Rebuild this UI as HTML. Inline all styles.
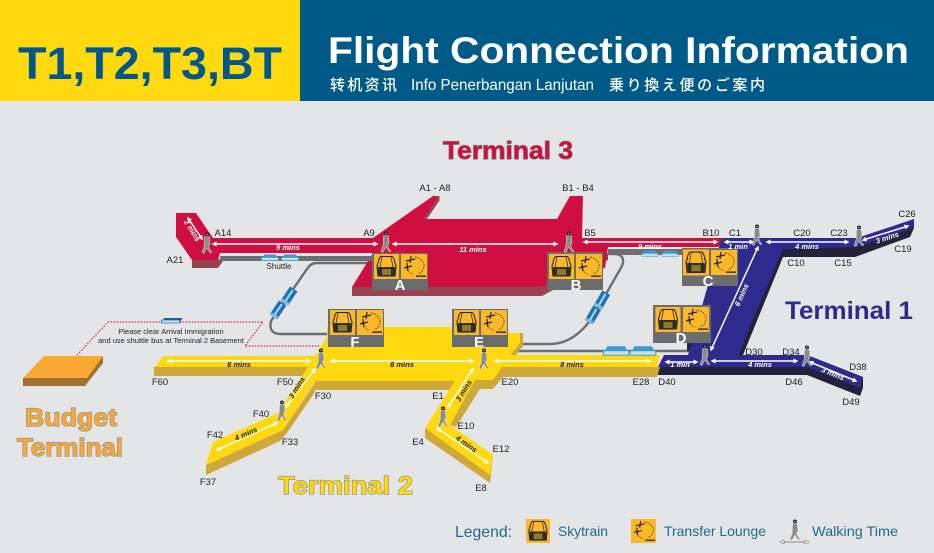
<!DOCTYPE html>
<html><head><meta charset="utf-8"><style>
html,body{margin:0;padding:0;background:#e4e5e7;width:934px;height:553px;overflow:hidden}
svg{display:block}
text{font-family:"Liberation Sans","Noto Sans CJK JP",sans-serif}
.l{font-size:9.5px;fill:#222;text-anchor:middle}
.m{font-size:7.5px;font-weight:bold;font-style:italic;fill:#fff;text-anchor:middle}
.k{fill:#222}
.a{stroke:#fff;stroke-width:1.5;fill:none;marker-start:url(#as);marker-end:url(#ae)}
.ttl{font-weight:bold;paint-order:stroke;stroke:#888;stroke-width:1.2px}
.lg{font-size:14px;fill:#1f6a8f}
.bl{font-weight:bold;font-size:15px;fill:#fff;text-anchor:middle}
</style></head><body>
<svg width="934" height="553" viewBox="0 0 934 553" xmlns="http://www.w3.org/2000/svg">
<defs>
<marker id="ae" markerWidth="5" markerHeight="5" refX="3.5" refY="2.5" orient="auto" markerUnits="userSpaceOnUse"><path d="M0 0L5 2.5L0 5z" fill="#fff"/></marker>
<marker id="as" markerWidth="5" markerHeight="5" refX="1.5" refY="2.5" orient="auto" markerUnits="userSpaceOnUse"><path d="M5 0L0 2.5L5 5z" fill="#fff"/></marker>
<symbol id="sky" viewBox="0 0 25 25" overflow="visible">
<rect width="25" height="25" fill="#fdb827"/>
<path d="M7 2.5H18Q20 3 21 9L22 12L21 22H4L3 12L4 9Q5 3 7 2.5z" fill="none" stroke="#222" stroke-width="1.1"/>
<path d="M4 13H21V22H4z" fill="#2e2e2e"/><rect x="8" y="15" width="9" height="6" fill="#8c7a2a"/>
<path d="M6 13L8 3M19 13L17 3" stroke="#222" stroke-width=".7"/>
</symbol>
<symbol id="lng" viewBox="0 0 26 25" overflow="visible">
<rect width="26" height="25" fill="#fdb827"/>
<path d="M14 3C25 5 26 16 17 20" fill="none" stroke="#333" stroke-width=".7" stroke-dasharray="2 1"/>
<path d="M5 12C6 17 9 19 13 21" fill="none" stroke="#333" stroke-width=".6" stroke-dasharray="2 1"/>
<path d="M5 7L14 5M10 2L9 9M3 14L11 12M6 9L7 17" stroke="#222" stroke-width="1.2"/>
<rect x="15" y="21.5" width="10" height="1.3" fill="#222"/>
</symbol>
<g id="w">
<circle cx="0" cy="-9.5" r="2" fill="#222"/><circle cx="0" cy="-9.5" r=".8" fill="#bbb"/>
<path d="M-2.5-7.2L2.5-7.2L3 1L1.5 1L2.5 5L5 8L3.2 9L-.2 4L-3 9.5L-5 8.5L-2.8 2z" fill="#8a8a8a" stroke="#fff" stroke-width=".4"/>
</g>
<g id="car"><rect x="-8.5" y="-4.5" width="17" height="9" rx="1" fill="#1c73bf"/><rect x="-7" y="-1" width="14" height="1.8" fill="#bfe3ee"/><rect x="-8.5" y="-4" width="3" height="8" fill="#7cc0e0"/></g>
<g id="hc"><path d="M-7.5 2.5L-5.5-2.5H5.5L8 2.5z" fill="#3d9ad2"/><rect x="-8" y="0.5" width="16" height="3" fill="#bfe3e6" stroke="#3d9ad2" stroke-width=".6"/></g>
</defs>
<rect width="934" height="553" fill="#e4e5e7"/>
<!-- header -->
<rect width="300" height="101" fill="#ffd90f"/>
<rect x="300" width="634" height="101" fill="#005a87"/>
<text x="18" y="79" font-size="45" font-weight="bold" fill="#00578a" textLength="264" lengthAdjust="spacingAndGlyphs">T1,T2,T3,BT</text>
<text x="328" y="63" font-size="37" font-weight="bold" fill="#fff" textLength="581" lengthAdjust="spacingAndGlyphs">Flight Connection Information</text>
<text x="330" y="90" font-size="15" fill="#fff" font-weight="500" textLength="67" style='font-family:"Noto Sans CJK SC",sans-serif'>转机资讯</text>
<text x="411" y="90" font-size="16" fill="#fff" textLength="183" lengthAdjust="spacingAndGlyphs">Info Penerbangan Lanjutan</text>
<text x="609" y="90" font-size="15" fill="#fff" font-weight="500" textLength="156" style='font-family:"Noto Sans CJK JP",sans-serif'>乗り換え便のご案内</text>
<!-- dotted -->
<path d="M77 355L108 322H263L245 346H320" fill="none" stroke="#e2203f" stroke-width="1.2" stroke-dasharray="1.5 1.5"/>
<!-- budget -->
<path d="M23 378V386H85L103 363V356L87 378z" fill="#a0712f"/>
<path d="M44 356H103L87 378H23z" fill="#f9a933"/>
<!-- rails -->
<g fill="none" stroke="#6d6e70" stroke-width="2.4">
<path d="M369 263H316Q311 263 307 269L271 321Q268 334 281 334H330"/>
<path d="M608 254H616Q626 256 622 266L594 315Q575 344 550 344H515"/>
<path d="M513 351H690"/>
</g>
<!-- T3 red -->
<path d="M192 260V268H218L223 261H370L352 287V296H542L608 260V253L560 253z" fill="#9a4250"/>
<path d="M176 213H196L213 238H373L433 196H438V200L425 219H557L570 196H583L582 238H725L718 247H608L605 268L543 287H352L373 253H220L218 260H192L176 237z" fill="#cf0f3f"/>
<path d="M438 196V200L425 219" fill="none" stroke="#9a4250" stroke-width="3"/>
<rect x="220" y="256" width="153" height="5" fill="#6d6e70"/>
<rect x="608" y="249" width="74" height="6" fill="#6d6e70"/>
<!-- T1 blue -->
<rect x="687" y="343" width="6" height="8" fill="#24223a"/>
<path d="M658 367V375H807L860 396L863 388V377L807 355H738L743 355L783 257H855L910 237L914 228V219L857 247H783L738 355z" fill="#24223a"/>
<path d="M658 367L664 355H688L720 243L723 238H857L914 219V228L857 247L783 249L738 355H807L863 377L860 388L807 367z" fill="#2e2a8e"/>
<!-- T2 yellow -->
<path d="M154 367V376H308L315 367zM315 381V390H455V381zM425 428V438L490 483L493 455zM473 380L450 425L456 427L480 389H493L503 377L502 367L490 380zM206 465V475L280 441L287 433L315 392L316 381L283 430zM493 380V389L503 377V368zM502 367V377H657L660 367zM520 343L510 355H516L523 346V333H520z" fill="#cfa83a"/>
<path d="M155 367L163 356H315L327 337V327H500V333H520V343L510 355H660L657 367H502L493 380H475L450 425L493 455L490 475L425 428L455 381H315L283 430L206 465L213 442L278 413L308 367z" fill="#ffd90f"/>
<!-- shuttle trains -->
<g transform="translate(270,257) scale(1.05,1)"><use href="#hc"/></g>
<g transform="translate(290,257) scale(1.05,1)"><use href="#hc"/></g>
<g transform="translate(650,253) scale(1,.95)"><use href="#hc"/></g>
<g transform="translate(670,253) scale(1,.95)"><use href="#hc"/></g>
<g transform="translate(616,350) scale(1.6,1.5)"><use href="#hc"/></g>
<g transform="translate(643,350) scale(1.6,1.5)"><use href="#hc"/></g>
<g transform="translate(172,320) scale(1.3,1)"><path d="M-8 3L-6-2H8L6 3z" fill="#1c5da0"/><rect x="-8" y="0" width="14" height="3" fill="#bfe3e6" stroke="#1c5da0" stroke-width=".6"/></g>
<g transform="translate(278,310) rotate(-56)"><use href="#car"/></g>
<g transform="translate(289,296) rotate(-56)"><use href="#car"/></g>
<g transform="translate(593,315) rotate(-60)"><use href="#car"/></g>
<g transform="translate(602,300) rotate(-60)"><use href="#car"/></g>
<!-- boxes -->
<g>
<rect x="372" y="253" width="56" height="37" fill="#6b6c6e"/><use href="#sky" x="374" y="254" width="25" height="25"/><use href="#lng" x="401" y="254" width="26" height="25"/><text x="400" y="290" class="bl">A</text>
<rect x="547" y="252" width="56" height="38" fill="#6b6c6e"/><use href="#sky" x="549" y="254" width="25" height="25"/><use href="#lng" x="576" y="254" width="26" height="25"/><text x="576" y="290" class="bl">B</text>
<rect x="682" y="248" width="56" height="38" fill="#6b6c6e"/><use href="#sky" x="683" y="249" width="26" height="27"/><use href="#lng" x="711" y="249" width="26" height="27"/><text x="708" y="286" class="bl">C</text>
<rect x="653" y="305" width="58" height="38" fill="#6b6c6e"/><use href="#sky" x="655" y="307" width="26" height="25"/><use href="#lng" x="683" y="307" width="26" height="25"/><text x="681" y="343" class="bl">D</text>
<rect x="452" y="309" width="56" height="38" fill="#6b6c6e"/><use href="#sky" x="454" y="310" width="25" height="25"/><use href="#lng" x="481" y="310" width="26" height="25"/><text x="479" y="347" class="bl">E</text>
<rect x="328" y="309" width="56" height="38" fill="#6b6c6e"/><use href="#sky" x="330" y="310" width="25" height="25"/><use href="#lng" x="357" y="310" width="26" height="25"/><text x="355" y="347" class="bl">F</text>
</g>
<!-- arrows -->
<path class="a" d="M188 218L202 239"/>
<path class="a" d="M213 244H377"/><path class="a" d="M393 244H557"/><path class="a" d="M584 242H717"/>
<path class="a" d="M725 242H753"/><path class="a" d="M767 242H848"/><path class="a" d="M863 240L908 226"/>
<path class="a" d="M758 247L711 350"/><path class="a" d="M666 362H697"/><path class="a" d="M712 361H797"/>
<path class="a" d="M810 362L856 381"/><path class="a" d="M495 361H650"/><path class="a" d="M331 361H473"/>
<path class="a" d="M168 361H310"/><path class="a" d="M315 369L286 407"/><path class="a" d="M277 423L217 450"/>
<path class="a" d="M473 369L448 407"/><path class="a" d="M437 428L488 463"/>
<!-- minutes -->
<text class="m" transform="translate(190,232) rotate(58)">2 mins</text>
<text class="m" x="288" y="250">9 mins</text><text class="m" x="473" y="252">11 mins</text><text class="m" x="650" y="249">9 mins</text>
<text class="m" x="738" y="249">1 min</text><text class="m" x="807" y="249">4 mins</text>
<text class="m" transform="translate(888,240) rotate(-18)">3 mins</text>
<text class="m" transform="translate(744,296) rotate(-66)">6 mins</text>
<text class="m" x="680" y="367">1 min</text><text class="m" x="760" y="367">4 mins</text>
<text class="m" transform="translate(832,376) rotate(22)">3 mins</text>
<text class="m k" x="572" y="367">8 mins</text><text class="m k" x="402" y="367">8 mins</text><text class="m k" x="239" y="367">8 mins</text>
<text class="m k" transform="translate(299,389) rotate(-58)">3 mins</text>
<text class="m k" transform="translate(247,436) rotate(-24)">4 mins</text>
<text class="m k" transform="translate(466,392) rotate(-58)">3 mins</text>
<text class="m k" transform="translate(465,446) rotate(35)">4 mins</text>
<!-- walkers -->
<use href="#w" x="207" y="244"/><use href="#w" x="386" y="243"/><use href="#w" x="569" y="243"/><use href="#w" x="757" y="236"/><use href="#w" x="859" y="237"/>
<use href="#w" x="705" y="356"/><use href="#w" x="807" y="357"/><use href="#w" x="321" y="360"/><use href="#w" x="484" y="360"/><use href="#w" x="282" y="412"/><use href="#w" x="443" y="418"/>
<!-- gate labels -->
<g class="lb">
<text class="l" x="435" y="191">A1 - A8</text><text class="l" x="578" y="191">B1 - B4</text><text class="l" x="223" y="236">A14</text><text class="l" x="369" y="236">A9</text><text class="l" x="175" y="263">A21</text>
<text class="l" x="590" y="236">B5</text><text class="l" x="711" y="236">B10</text><text class="l" x="735" y="236">C1</text><text class="l" x="802" y="236">C20</text><text class="l" x="839" y="236">C23</text>
<text class="l" x="907" y="217">C26</text><text class="l" x="903" y="252">C19</text><text class="l" x="796" y="266">C10</text><text class="l" x="843" y="266">C15</text>
<text class="l" x="754" y="355">D30</text><text class="l" x="791" y="355">D34</text><text class="l" x="858" y="370">D38</text><text class="l" x="794" y="385">D46</text><text class="l" x="851" y="405">D49</text><text class="l" x="667" y="385">D40</text>
<text class="l" x="641" y="385">E28</text><text class="l" x="510" y="385">E20</text><text class="l" x="160" y="385">F60</text><text class="l" x="285" y="385">F50</text><text class="l" x="323" y="399">F30</text><text class="l" x="438" y="399">E1</text>
<text class="l" x="466" y="429">E10</text><text class="l" x="501" y="452">E12</text><text class="l" x="418" y="445">E4</text><text class="l" x="481" y="491">E8</text><text class="l" x="290" y="445">F33</text><text class="l" x="261" y="417">F40</text><text class="l" x="215" y="438">F42</text><text class="l" x="208" y="485">F37</text>
<text class="l" x="279" y="269" style="font-size:8px">Shuttle</text>
<text class="l" x="171" y="334" style="font-size:7.5px">Please clear Arrival Immigration</text>
<text class="l" x="171" y="343" style="font-size:7.5px">and use shuttle bus at Terminal 2 Basement</text>
</g>
<!-- headings -->
<text class="ttl" x="443" y="159" font-size="25" fill="#cf0f3f" textLength="130" lengthAdjust="spacingAndGlyphs">Terminal 3</text>
<text x="785" y="319" font-size="25" font-weight="bold" fill="#2e2a8e" textLength="128" lengthAdjust="spacingAndGlyphs">Terminal 1</text>
<text class="ttl" x="278" y="494" font-size="25" fill="#ffd90f" textLength="135" lengthAdjust="spacingAndGlyphs">Terminal 2</text>
<text class="ttl" x="25" y="426" font-size="25" fill="#f9a933" textLength="92" lengthAdjust="spacingAndGlyphs">Budget</text>
<text class="ttl" x="17" y="456" font-size="25" fill="#f9a933" textLength="106" lengthAdjust="spacingAndGlyphs">Terminal</text>
<!-- legend -->
<text class="lg" x="455" y="537" style="font-size:16px" textLength="57" lengthAdjust="spacingAndGlyphs">Legend:</text>
<use href="#sky" x="526" y="519" width="24" height="24"/>
<text class="lg" x="558" y="536" textLength="50" lengthAdjust="spacingAndGlyphs">Skytrain</text>
<use href="#lng" x="631" y="519" width="25" height="24"/>
<text class="lg" x="664" y="536" textLength="102" lengthAdjust="spacingAndGlyphs">Transfer Lounge</text>
<use href="#w" x="795" y="531"/>
<path d="M780 542H809" stroke="#333" stroke-width=".6" fill="none"/>
<path d="M780 542L784 540V544zM809 542L805 540V544z" fill="#fff" stroke="#333" stroke-width=".4"/>
<text class="lg" x="812" y="536" textLength="86" lengthAdjust="spacingAndGlyphs">Walking Time</text>
</svg>
</body></html>
